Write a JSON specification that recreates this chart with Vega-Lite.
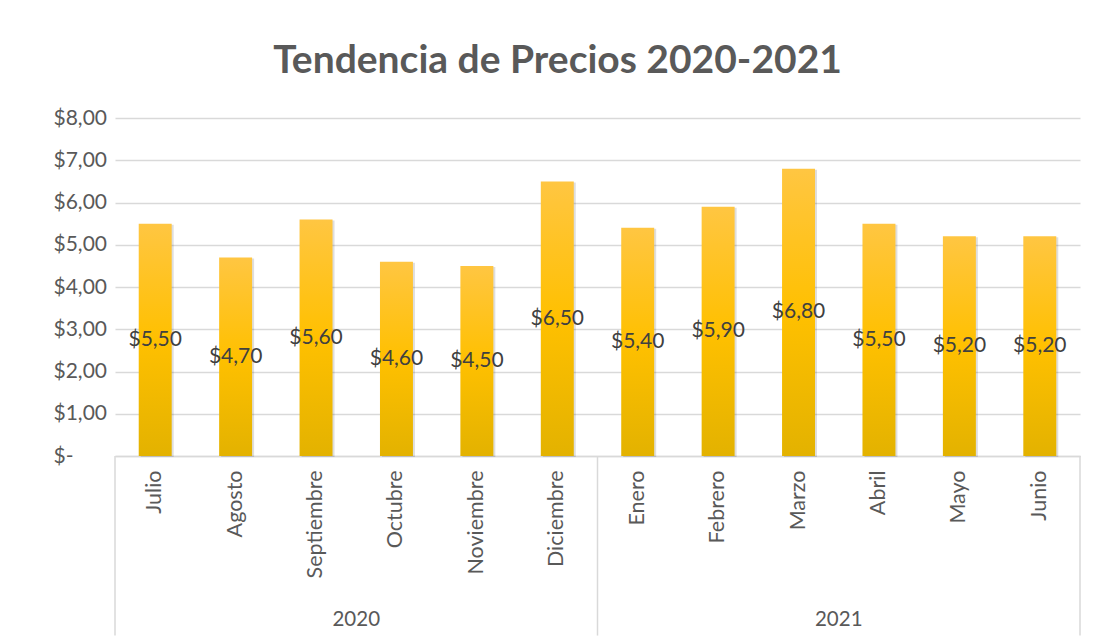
{
  "$schema": "https://vega.github.io/schema/vega-lite/v6.json",
  "autosize": {"type": "none"},
  "padding": {"left": 115, "top": 118, "right": 15, "bottom": 183},
  "width": 965,
  "height": 338,
  "background": "white",
  "config": {
    "font": "Lato",
    "view": {"stroke": null},
    "locale": {"number": {"decimal": ",", "thousands": ".", "grouping": [3], "currency": ["$", ""]}}
  },
  "title": {
    "text": "Tendencia de Precios 2020-2021",
    "font": "Lato",
    "fontSize": 39,
    "fontWeight": "bold",
    "color": "#595959",
    "anchor": "middle",
    "dx": -40,
    "offset": -5,
    "baseline": "alphabetic"
  },
  "datasets": {
    "precios": [
      {"mes": "Julio", "anio": "2020", "precio": 5.5},
      {"mes": "Agosto", "anio": "2020", "precio": 4.7},
      {"mes": "Septiembre", "anio": "2020", "precio": 5.6},
      {"mes": "Octubre", "anio": "2020", "precio": 4.6},
      {"mes": "Noviembre", "anio": "2020", "precio": 4.5},
      {"mes": "Diciembre", "anio": "2020", "precio": 6.5},
      {"mes": "Enero", "anio": "2021", "precio": 5.4},
      {"mes": "Febrero", "anio": "2021", "precio": 5.9},
      {"mes": "Marzo", "anio": "2021", "precio": 6.8},
      {"mes": "Abril", "anio": "2021", "precio": 5.5},
      {"mes": "Mayo", "anio": "2021", "precio": 5.2},
      {"mes": "Junio", "anio": "2021", "precio": 5.2}
    ]
  },
  "resolve": {"scale": {"y": "independent"}},
  "layer": [
    {
      "data": {"name": "precios"},
      "mark": {"type": "bar", "width": {"band": 0.41}, "fill": "#000000", "opacity": 0.13, "xOffset": 2, "yOffset": 1},
      "encoding": {
        "x": {"field": "mes", "type": "nominal", "sort": null,
          "scale": {"domain": ["Julio","Agosto","Septiembre","Octubre","Noviembre","Diciembre","Enero","Febrero","Marzo","Abril","Mayo","Junio"], "paddingInner": 0, "paddingOuter": 0},
          "axis": {
            "title": null, "labelAngle": -90, "labelFontSize": 21.5, "labelColor": "#595959",
            "labelPadding": 14, "ticks": false, "tickSize": 0, "domainColor": "#D9D9D9", "domainWidth": 1.5,
            "grid": false, "labelFont": "Lato"
          }},
        "y": {
          "field": "precio", "type": "quantitative",
          "scale": {"domain": [0, 8], "nice": false, "zero": true},
          "axis": {
            "title": null, "values": [0,1,2,3,4,5,6,7,8], "labelOverlap": false, "grid": true,
            "labelExpr": "datum.value == 0 ? '$-' : '$' + replace(format(datum.value, '.2f'), '.', ',')",
            "labelAlign": "left", "labelPadding": 62, "ticks": false, "tickSize": 0, "domain": false,
            "gridColor": "#D9D9D9", "gridWidth": 1.5, "labelFontSize": 21, "labelColor": "#595959", "labelFont": "Lato"
          }
        }
      }
    },
    {
      "data": {"name": "precios"},
      "mark": {
        "type": "bar",
        "width": {"band": 0.41},
        "fill": {
          "gradient": "linear", "x1": 0, "y1": 0, "x2": 0, "y2": 1,
          "stops": [
            {"offset": 0, "color": "#FFC642"},
            {"offset": 0.5, "color": "#FFC000"},
            {"offset": 1, "color": "#E3B200"}
          ]
        }
      },
      "encoding": {
        "x": {"field": "mes", "type": "nominal", "sort": null},
        "y": {"field": "precio", "type": "quantitative", "scale": {"domain": [0, 8], "nice": false}, "axis": null}
      }
    },
    {
      "data": {"name": "precios"},
      "mark": {"type": "text", "fontSize": 21, "color": "#404040", "baseline": "middle", "align": "center", "font": "Lato"},
      "encoding": {
        "x": {"field": "mes", "type": "nominal", "sort": null},
        "y": {"field": "precio", "type": "quantitative", "scale": {"domain": [0, 16], "nice": false}, "axis": null},
        "text": {"field": "precio", "type": "quantitative", "format": "$.2f"}
      }
    },
    {
      "data": {"values": [{"mes": "Julio"}, {"mes": "Enero"}]},
      "mark": {"type": "rule", "color": "#D9D9D9", "strokeWidth": 1.5},
      "encoding": {
        "x": {"field": "mes", "type": "nominal", "sort": null, "bandPosition": 0},
        "y": {"datum": 0, "type": "quantitative", "scale": {"domain": [0, 8], "nice": false}, "axis": null},
        "y2": {"datum": -4.25}
      }
    },
    {
      "data": {"values": [{"mes": "Junio"}]},
      "mark": {"type": "rule", "color": "#D9D9D9", "strokeWidth": 1.5},
      "encoding": {
        "x": {"field": "mes", "type": "nominal", "sort": null, "bandPosition": 1},
        "y": {"datum": 0, "type": "quantitative", "scale": {"domain": [0, 8], "nice": false}, "axis": null},
        "y2": {"datum": -4.25}
      }
    },
    {
      "data": {"values": [{"mes": "Septiembre", "anio": "2020"}, {"mes": "Marzo", "anio": "2021"}]},
      "mark": {"type": "text", "fontSize": 20.5, "color": "#595959", "baseline": "middle", "align": "center", "font": "Lato"},
      "encoding": {
        "x": {"field": "mes", "type": "nominal", "sort": null, "bandPosition": 1},
        "y": {"datum": -3.87, "type": "quantitative", "scale": {"domain": [0, 8], "nice": false}, "axis": null},
        "text": {"field": "anio", "type": "nominal"}
      }
    }
  ]
}
